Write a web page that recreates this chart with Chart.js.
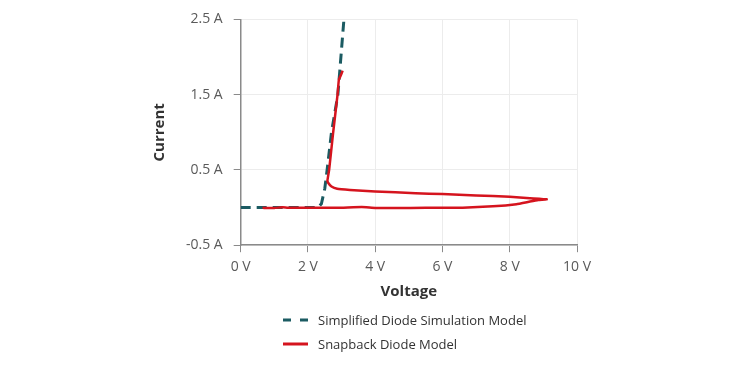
<!DOCTYPE html>
<html>
<head>
<meta charset="utf-8">
<script src="https://cdn.jsdelivr.net/npm/chart.js@4"></script>
<style>
  body { margin: 0; background: #fff; }
  #wrap { position: relative; width: 750px; height: 375px; }
  #legend { position: absolute; left: 283px; top: 308px; font-family: 'Open Sans', sans-serif; font-size: 13px; color: #333; }
  .item { display: flex; align-items: center; height: 24px; }
  .item canvas { margin-right: 10px; }
</style>
</head>
<body>
<div id="wrap">
  <canvas id="diodeChart" width="750" height="375"></canvas>
  <div id="legend"></div>
</div>
<script>
// simplified diode model (dashed)
var simVoltage = [0, 2.3, 2.4, 2.5, 2.57, 2.7, 2.89, 3.07];
var simCurrent = [0, 0, 0.05, 0.25, 0.5, 1.0, 1.5, 2.5];

// snapback diode measurement: bottom branch out to 9 V, back along upper branch, then up
var snapVoltage = [0.65, 1.0, 1.25, 1.4, 2.0, 2.5, 3.0, 3.6, 4.0, 4.6, 5.5, 6.6, 7.5, 8.2, 8.6, 8.85, 9.1,
                   8.6, 8.0, 7.0, 6.0, 5.2, 4.0, 3.25, 2.87, 2.7, 2.6, 2.58, 2.63, 2.75, 2.88, 2.92, 3.0, 3.03];
var snapCurrent = [-0.004, -0.005, 0.004, -0.002, -0.002, -0.004, -0.002, 0.006, -0.005, -0.006, -0.004, -0.001, 0.016, 0.045, 0.08, 0.1, 0.11,
                   0.125, 0.145, 0.16, 0.18, 0.19, 0.215, 0.235, 0.25, 0.28, 0.33, 0.36, 0.5, 1.0, 1.5, 1.7, 1.78, 1.82];

var seriesNames = ['Simplified Diode Simulation Model', 'Snapback Diode Model'];
var voltTicks = [0, 2, 4, 6, 8, 10];
var ampTicks = [-0.5, 0.5, 1.5, 2.5];

function toPoints(xs, ys) {
    return xs.map(function(x, i) { return { x: x, y: ys[i] }; });
}

var tickFont = { family: 'Open Sans', size: 14 };
var titleFont = { family: 'Open Sans', size: 15, weight: 'bold' };

var ctx = document.getElementById('diodeChart').getContext('2d');
var chart = new Chart(ctx, {
    type: 'scatter',
    data: {
        datasets: [{
            label: seriesNames[0],
            data: toPoints(simVoltage, simCurrent),
            showLine: true,
            borderColor: '#1b5b62',
            borderWidth: 3,
            borderDash: [10, 6],
            pointRadius: 0,
            order: 2
        }, {
            label: seriesNames[1],
            data: toPoints(snapVoltage, snapCurrent),
            showLine: true,
            borderColor: '#d5141e',
            borderWidth: 2.5,
            pointRadius: 0,
            tension: 0.1,
            order: 1
        }]
    },
    options: {
        responsive: false,
        animation: false,
        layout: { padding: { left: 151, right: 173, top: 16, bottom: 74 } },
        scales: {
            x: {
                type: 'linear',
                min: 0,
                max: 10,
                afterBuildTicks: function(axis) { axis.ticks = voltTicks.map(function(v) { return { value: v }; }); },
                ticks: { color: '#5a5a5a', font: tickFont, padding: 6, maxRotation: 0, callback: function(v) { return v + ' V'; } },
                grid: { color: '#ececec', tickColor: '#8a8a8a', tickLength: 7 },
                border: { color: '#8a8a8a', width: 1.5 },
                title: { display: true, text: 'Voltage', color: '#333', font: titleFont, padding: { top: 2, bottom: 0 } }
            },
            y: {
                type: 'linear',
                min: -0.5,
                max: 2.5,
                afterBuildTicks: function(axis) { axis.ticks = ampTicks.map(function(v) { return { value: v }; }); },
                ticks: { color: '#5a5a5a', font: tickFont, padding: 11, callback: function(v) { return v + ' A'; } },
                grid: { color: '#ececec', tickColor: '#8a8a8a', tickLength: 7 },
                border: { color: '#8a8a8a', width: 1.5 },
                title: { display: true, text: 'Current', color: '#333', font: titleFont, padding: { top: 0, bottom: 6 } }
            }
        },
        plugins: {
            legend: { display: false },
            tooltip: { enabled: false }
        }
    }
});

// legend stacked vertically below the chart
var legendEl = document.getElementById('legend');
chart.data.datasets.forEach(function(ds) {
    var item = document.createElement('div');
    item.className = 'item';
    var sw = document.createElement('canvas');
    sw.width = 25; sw.height = 6;
    var c = sw.getContext('2d');
    c.strokeStyle = ds.borderColor;
    c.lineWidth = 3;
    c.setLineDash(ds.borderDash ? [8, 9] : []);
    c.beginPath(); c.moveTo(0, 3); c.lineTo(25, 3); c.stroke();
    item.appendChild(sw);
    var span = document.createElement('span');
    span.textContent = ds.label;
    item.appendChild(span);
    legendEl.appendChild(item);
});
</script>
</body>
</html>
